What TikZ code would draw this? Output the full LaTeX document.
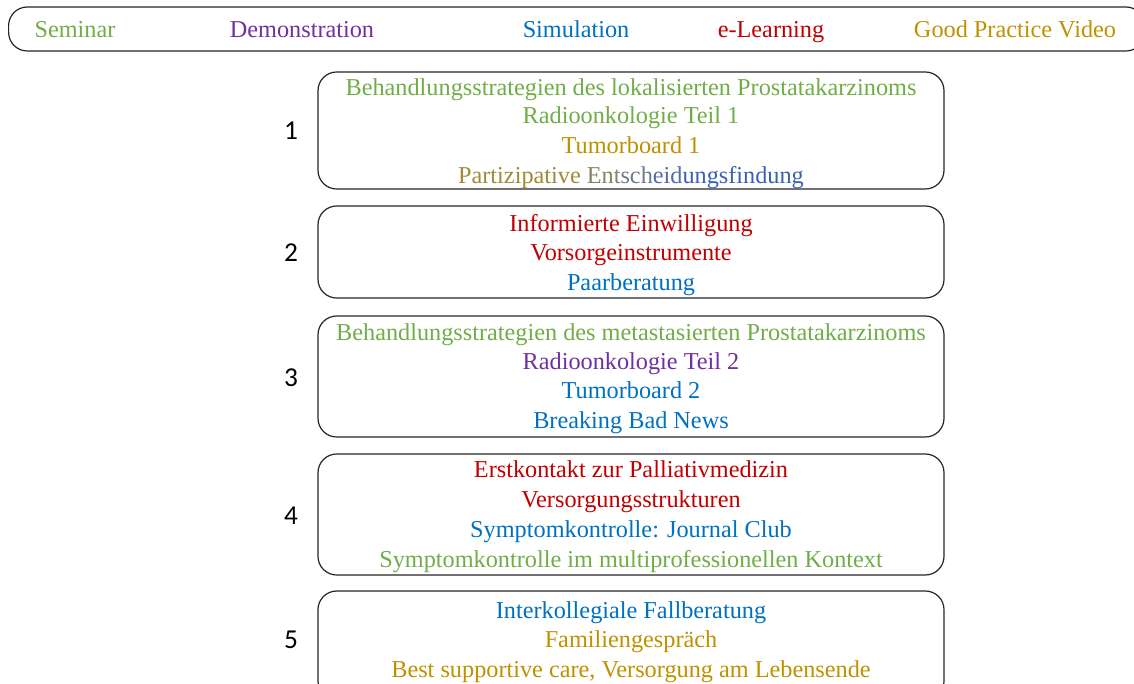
\documentclass[tikz,border=0pt]{standalone}
\usepackage{fontspec}
\setmainfont{Liberation Serif}
\newfontfamily\numfont{Carlito}
\definecolor{semgreen}{HTML}{70AD47}
\definecolor{dempurple}{HTML}{7030A0}
\definecolor{simblue}{HTML}{0070C0}
\definecolor{elred}{HTML}{C00000}
\definecolor{gpvgold}{HTML}{BF9000}
\definecolor{mixA}{HTML}{A08A35}
\definecolor{mixB}{HTML}{85826A}
\definecolor{mixC}{HTML}{6C7A8A}
\definecolor{mixD}{HTML}{4F6BA8}
\definecolor{mixE}{HTML}{3A60B4}
\tikzset{
	box/.style={draw=black!85, line width=0.9pt, rounded corners=14pt, minimum width=469.5pt},
	entry/.style={font=\fontsize{18.2}{20}\selectfont, inner sep=0pt, anchor=mid, yshift=-3pt},
	num/.style={font=\numfont\fontsize{20.5}{22}\selectfont, inner sep=0pt}
}

\begin{document}
\begin{tikzpicture}[x=0.75pt,y=-0.75pt]
		\useasboundingbox (0,0) rectangle (1134,684);
		% legend bar
		\node[box, minimum width=852pt, minimum height=33pt, anchor=west] (legend) at (8,29) {};
		\node[entry, text=semgreen] (sem) at (75,30) {Seminar};
		\node[entry, text=dempurple] (dem) at (302,30) {Demonstration};
		\node[entry, text=simblue] (sim) at (576,30) {Simulation};
		\node[entry, text=elred] (elearn) at (771,30) {e-Learning};
		\node[entry, text=gpvgold] (gpv) at (1015,30) {Good Practice Video};
		% boxes
		\node[box, minimum height=87.75pt] (box1) at (631,130.5) {};
		\node[box, minimum height=69pt] (box2) at (631,252) {};
		\node[box, minimum height=90.75pt] (box3) at (631,376.5) {};
		\node[box, minimum height=90.75pt] (box4) at (631,514.5) {};
		\node[box, minimum height=81.75pt] (box5) at (631,645.5) {};
		% numbers
		\foreach \n/\y in {1/131,2/253,3/378,4/516,5/640}
			\node[num] (num\n) at (291,\y) {\n};
		% box 1
		\node[entry, text=semgreen] (b1a) at (631,88) {Behandlungsstrategien des lokalisierten Prostatakarzinoms};
		\node[entry, text=semgreen] (b1b) at (631,116) {Radioonkologie Teil 1};
		\node[entry, text=gpvgold] (b1c) at (631,146) {Tumorboard 1};
		\node[entry] (b1d) at (631,176) {\color{mixA}Partizipative \color{mixB}Ent\color{mixC}sch\color{mixD}eid\color{mixE}ungsfindung};
		% box 2
		\node[entry, text=elred] (b2a) at (631,224) {Informierte Einwilligung};
		\node[entry, text=elred] (b2b) at (631,253) {Vorsorgeinstrumente};
		\node[entry, text=simblue] (b2c) at (631,283) {Paarberatung};
		% box 3
		\node[entry, text=semgreen] (b3a) at (631,333) {Behandlungsstrategien des metastasierten Prostatakarzinoms};
		\node[entry, text=dempurple] (b3b) at (631,362) {Radioonkologie Teil 2};
		\node[entry, text=simblue] (b3c) at (631,391) {Tumorboard 2};
		\node[entry, text=simblue] (b3d) at (631,421) {Breaking Bad News};
		% box 4
		\node[entry, text=elred] (b4a) at (631,470) {Erstkontakt zur Palliativmedizin};
		\node[entry, text=elred] (b4b) at (631,500) {Versorgungsstrukturen};
		\node[entry, text=simblue] (b4c) at (631,530) {Symptomkontrolle: Journal Club};
		\node[entry, text=semgreen] (b4d) at (631,560) {Symptomkontrolle im multiprofessionellen Kontext};
		% box 5
		\node[entry, text=simblue] (b5a) at (631,611) {Interkollegiale Fallberatung};
		\node[entry, text=gpvgold] (b5b) at (631,640) {Familiengespräch};
		\node[entry, text=gpvgold] (b5c) at (631,670) {Best supportive care, Versorgung am Lebensende};
	\end{tikzpicture}
\end{document}
